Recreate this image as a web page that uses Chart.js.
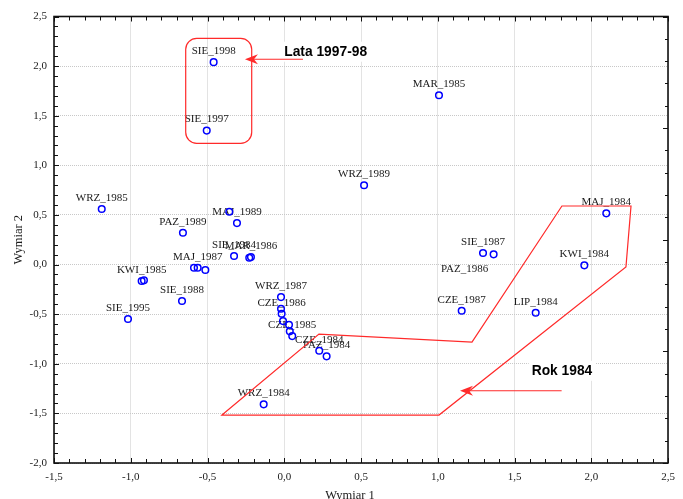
<!DOCTYPE html>
<html>
<head>
<meta charset="utf-8">
<script src="https://cdn.jsdelivr.net/npm/chart.js@4/dist/chart.umd.min.js"></script>
<style>
  html, body { margin: 0; padding: 0; background: #fff; }
  #wrap { width: 683px; height: 499px; position: relative; overflow: hidden; }
</style>
</head>
<body>
<div id="wrap"><canvas id="chart" width="683" height="499"></canvas></div>
<script>
// Point names (empty where the label is hidden by its neighbours)
const pointNames = [
  'SIE_1998', 'SIE_1997', 'MAR_1985', 'WRZ_1989', 'WRZ_1985', 'MAJ_1989', '',
  'PAZ_1989', 'SIE_1984', 'MAR_1986', '', 'MAJ_1987', '', '', 'KWI_1985', '',
  'SIE_1988', 'SIE_1995', 'WRZ_1987', '', 'CZE_1986', '', '', '', 'CZE_1985',
  'CZE_1984', 'PAZ_1984', 'WRZ_1984', 'SIE_1987', 'PAZ_1986', 'CZE_1987',
  'LIP_1984', 'KWI_1984', 'MAJ_1984'
];
// Coordinates on dimension 1
const dim1 = [
  -0.46, -0.505, 1.008, 0.52, -1.189, -0.308, -0.358,
  -0.66, -0.327, -0.217, -0.228, -0.564, -0.588, -0.514, -0.929, -0.914,
  -0.666, -1.018, -0.021, -0.021, -0.017, -0.008, 0.031, 0.036, 0.052,
  0.228, 0.276, -0.134, 1.295, 1.364, 1.156,
  1.638, 1.955, 2.098
];
// Coordinates on dimension 2
const dim2 = [
  2.04, 1.35, 1.706, 0.80, 0.56, 0.418, 0.532,
  0.321, 0.086, 0.075, 0.069, -0.032, -0.032, -0.055, -0.166, -0.159,
  -0.368, -0.549, -0.328, -0.446, -0.496, -0.570, -0.607, -0.673, -0.721,
  -0.869, -0.925, -1.409, 0.116, 0.103, -0.466,
  -0.486, -0.008, 0.516
];
// Axis ranges
const xRange = [-1.5, 2.5];
const yRange = [-2.0, 2.5];
const majorStep = 0.5;
const minorStep = 0.1;
const axisTitles = ['Wymiar 1', 'Wymiar 2'];

// Highlighted groups (data coordinates)
const groupBox9798 = { x0: -0.642, x1: -0.212, y0: 1.222, y1: 2.28 };
const group1984 = [
  [-0.406, -1.517], [0.226, -0.701], [1.223, -0.781], [1.809, 0.59],
  [2.259, 0.59], [2.226, -0.025], [1.008, -1.517]
];
const callouts = [
  { text: 'Lata 1997-98', tx: 0.0, ty: 2.145, from: [0.122, 2.069], to: [-0.256, 2.069] },
  { text: 'Rok 1984', tx: 1.612, ty: -1.071, from: [1.807, -1.272], to: [1.145, -1.272] }
];

// Label offsets (pixels) where a label is not set directly above its point
const labelOffsets = { 'PAZ_1986': { dx: -29, dy: 15 } };

const RED = '#ff2a2a';
const SERIF = '"Liberation Serif", "Times New Roman", serif';
const SANS = '"Liberation Sans", Arial, sans-serif';

const fmt = v => (Math.round(v * 10) / 10).toFixed(1).replace('.', ',');

const pointLabels = {
  id: 'pointLabels',
  beforeDatasetsDraw(chart) {
    const ctx = chart.ctx;
    const meta = chart.getDatasetMeta(0);
    ctx.save();
    ctx.font = '11px ' + SERIF;
    ctx.fillStyle = '#1a1a1a';
    ctx.textAlign = 'center';
    ctx.textBaseline = 'middle';
    meta.data.forEach((el, i) => {
      const name = pointNames[i];
      if (!name) return;
      const off = labelOffsets[name] || { dx: 0, dy: -11 };
      ctx.fillText(name, el.x + off.dx, el.y + off.dy);
    });
    ctx.restore();
  }
};

function arrowHead(ctx, tipX, tipY, dirX, dirY) {
  // notched arrow head pointing along (dirX, dirY)
  const len = Math.hypot(dirX, dirY) || 1;
  const ux = dirX / len, uy = dirY / len;
  const px = -uy, py = ux;
  const L = 13, W = 5, N = 9;
  ctx.beginPath();
  ctx.moveTo(tipX, tipY);
  ctx.lineTo(tipX - ux * L + px * W, tipY - uy * L + py * W);
  ctx.lineTo(tipX - ux * N, tipY - uy * N);
  ctx.lineTo(tipX - ux * L - px * W, tipY - uy * L - py * W);
  ctx.closePath();
  ctx.fill();
}

const annotations = {
  id: 'annotations',
  afterDatasetsDraw(chart) {
    const ctx = chart.ctx;
    const xs = chart.scales.x, ys = chart.scales.y;
    const X = v => xs.getPixelForValue(v), Y = v => ys.getPixelForValue(v);
    ctx.save();
    ctx.strokeStyle = RED;
    ctx.fillStyle = RED;
    ctx.lineWidth = 1.2;
    ctx.lineJoin = 'miter';

    // rounded box around the 1997-98 points
    const bx0 = X(groupBox9798.x0), bx1 = X(groupBox9798.x1);
    const by0 = Y(groupBox9798.y1), by1 = Y(groupBox9798.y0);
    ctx.beginPath();
    ctx.roundRect(bx0, by0, bx1 - bx0, by1 - by0, 11);
    ctx.stroke();

    // outline of the 1984 group
    ctx.beginPath();
    group1984.forEach((p, i) => {
      if (i === 0) ctx.moveTo(X(p[0]), Y(p[1]));
      else ctx.lineTo(X(p[0]), Y(p[1]));
    });
    ctx.closePath();
    ctx.stroke();

    // callouts: text on white with an arrow
    callouts.forEach(c => {
      ctx.font = 'bold 13.8px ' + SANS;
      const w = ctx.measureText(c.text).width;
      const tx = X(c.tx), ty = Y(c.ty);
      ctx.fillStyle = '#fff';
      ctx.fillRect(tx - 3, ty - 10, w + 6, 20);
      ctx.fillStyle = '#000';
      ctx.textAlign = 'left';
      ctx.textBaseline = 'middle';
      ctx.fillText(c.text, tx, ty + 0.5);

      const fx = X(c.from[0]), fy = Y(c.from[1]);
      const tox = X(c.to[0]), toy = Y(c.to[1]);
      ctx.strokeStyle = RED;
      ctx.fillStyle = RED;
      ctx.beginPath();
      ctx.moveTo(fx, fy);
      ctx.lineTo(tox + 8, toy);
      ctx.stroke();
      arrowHead(ctx, tox, toy, tox - fx, toy - fy);
    });
    ctx.restore();
  }
};

const frame = {
  id: 'frame',
  afterDraw(chart) {
    const ctx = chart.ctx;
    const a = chart.chartArea;
    const xs = chart.scales.x, ys = chart.scales.y, rs = chart.scales.yRight;
    ctx.save();
    ctx.strokeStyle = '#111';
    ctx.lineWidth = 1;
    ctx.beginPath();
    // bottom & top ticks
    const nx = Math.round((xRange[1] - xRange[0]) / minorStep);
    for (let i = 0; i <= nx; i++) {
      const v = xRange[0] + i * minorStep;
      const major = i % 5 === 0;
      const px = Math.round(xs.getPixelForValue(v)) + 0.5;
      const L = major ? 5 : 4;
      ctx.moveTo(px, a.bottom); ctx.lineTo(px, a.bottom - L);
      ctx.moveTo(px, a.top); ctx.lineTo(px, a.top + L);
    }
    // left ticks
    const ny = Math.round((yRange[1] - yRange[0]) / minorStep);
    for (let i = 0; i <= ny; i++) {
      const v = yRange[0] + i * minorStep;
      const major = i % 5 === 0;
      const py = Math.round(ys.getPixelForValue(v)) + 0.5;
      ctx.moveTo(a.left, py); ctx.lineTo(a.left + (major ? 5 : 4), py);
    }
    // right ticks
    for (let i = 0; i <= 20; i++) {
      const py = Math.round(rs.getPixelForValue(i)) + 0.5;
      ctx.moveTo(a.right, py); ctx.lineTo(a.right - (i % 5 === 0 ? 5 : 3), py);
    }
    ctx.stroke();

    // axis frame
    ctx.lineWidth = 1.6;
    ctx.strokeRect(a.left, a.top, a.right - a.left, a.bottom - a.top);

    // axis titles
    ctx.fillStyle = '#1a1a1a';
    ctx.font = '12.5px ' + SERIF;
    ctx.textAlign = 'center';
    ctx.textBaseline = 'middle';
    ctx.fillText(axisTitles[0], a.left + (a.right - a.left) * 0.482, a.bottom + 33);
    ctx.translate(19, (a.top + a.bottom) / 2);
    ctx.rotate(-Math.PI / 2);
    ctx.fillText(axisTitles[1], 0, 0);
    ctx.restore();
  }
};

const gridStyle = { color: '#c8c8c8', lineWidth: 1, drawTicks: false };

new Chart(document.getElementById('chart'), {
  type: 'scatter',
  data: {
    datasets: [{
      data: dim1.map((x, i) => ({ x, y: dim2[i] })),
      pointStyle: 'circle',
      pointRadius: 3.3,
      pointBorderWidth: 1.5,
      pointBorderColor: '#0000ff',
      pointBackgroundColor: 'rgba(0,0,0,0)'
    }]
  },
  options: {
    responsive: false,
    animation: false,
    devicePixelRatio: 1,
    layout: { padding: { top: 16.5, right: 15, left: 0, bottom: 0 } },
    plugins: { legend: { display: false }, tooltip: { enabled: false } },
    scales: {
      x: {
        type: 'linear', min: xRange[0], max: xRange[1],
        grid: gridStyle,
        border: { display: false, dash: [1, 1] },
        ticks: {
          stepSize: majorStep, callback: v => fmt(v), autoSkip: false, maxRotation: 0,
          color: '#1a1a1a', padding: 8, font: { family: SERIF, size: 11 }
        },
        afterFit(s) { s.height = 36; }
      },
      y: {
        type: 'linear', min: yRange[0], max: yRange[1],
        grid: gridStyle,
        border: { display: false, dash: [1, 1] },
        ticks: {
          stepSize: majorStep, callback: v => fmt(v), autoSkip: false,
          color: '#1a1a1a', padding: 7, font: { family: SERIF, size: 11 }
        },
        afterFit(s) { s.width = 54; }
      },
      yRight: {
        type: 'linear', position: 'right', display: false, min: 0, max: 20
      }
    }
  },
  plugins: [pointLabels, annotations, frame]
});
</script>
</body>
</html>
